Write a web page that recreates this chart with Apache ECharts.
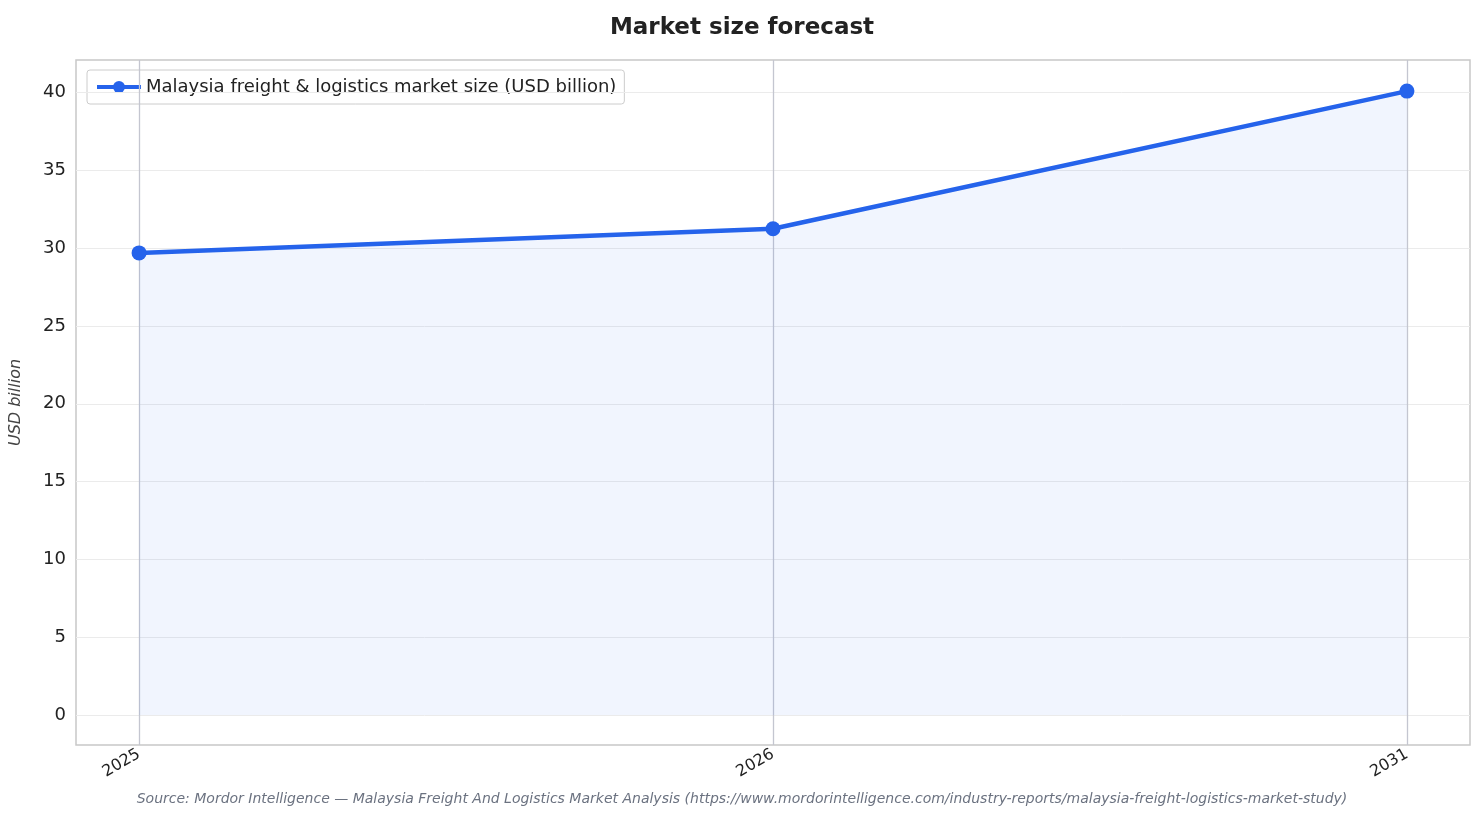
<!DOCTYPE html>
<html><head><meta charset="utf-8">
<script src="https://cdn.jsdelivr.net/npm/echarts@6/dist/echarts.min.js"></script>
<style>html,body{margin:0;padding:0;background:#fff}#c{width:1484px;height:823px}</style>
</head><body><div id="c"></div>
<script>
const categories = ['2025', '2026', '2031'];
const marketSize = [29.7, 31.25, 40.1];
const yTicks = [0, 5, 10, 15, 20, 25, 30, 35, 40];
const seriesName = 'Malaysia freight & logistics market size (USD billion)';

const chart = echarts.init(document.getElementById('c'));
const idx = categories.map((_, i) => i);
chart.setOption({
  animation: false,
  title: { text: 'Market size forecast', left: 'center', top: 12,
    textStyle: { fontFamily: 'DejaVu Sans', fontSize: 23, fontWeight: 'bold', color: '#222' } },
  legend: { left: 87, top: 70, padding: [8, 8, 8, 8], borderColor: '#ccc', borderWidth: 1, borderRadius: 3,
    itemWidth: 44, itemHeight: 15, itemGap: 8, data: [seriesName],
    lineStyle: { width: 4 },
    textStyle: { fontFamily: 'DejaVu Sans', fontSize: 18, color: '#222' } },
  graphic: [{ type: 'text', left: 'center', top: 792,
    style: { text: 'Source: Mordor Intelligence — Malaysia Freight And Logistics Market Analysis (https://www.mordorintelligence.com/industry-reports/malaysia-freight-logistics-market-study)',
      font: 'italic 14px "DejaVu Sans"', fill: '#6b7280' } }],
  grid: { left: 76, right: 14, top: 60, bottom: 78, show: true, borderColor: '#c8c8c8', borderWidth: 1.5 },
  xAxis: { type: 'value', min: -0.0995, max: 2.0995,
    axisLine: { show: false }, splitLine: { show: false },
    axisTick: { show: true, customValues: idx, length: 5, lineStyle: { color: '#444' } },
    axisLabel: { customValues: idx, rotate: 30, formatter: v => categories[Math.round(v)] ?? '',
      fontFamily: 'DejaVu Sans', fontSize: 16, color: '#222', margin: 8 } },
  yAxis: { type: 'value', min: -1.93, max: 42.1,
    name: 'USD billion', nameLocation: 'middle', nameGap: 52,
    nameTextStyle: { fontFamily: 'DejaVu Sans', fontStyle: 'italic', fontSize: 16, color: '#444' },
    axisLine: { show: false }, splitLine: { show: false },
    axisTick: { show: true, customValues: yTicks, length: 5, lineStyle: { color: '#444' } },
    axisLabel: { customValues: yTicks, fontFamily: 'DejaVu Sans', fontSize: 18, color: '#222', margin: 10 } },
  series: [
    { name: 'grid', type: 'line', data: [], silent: true,
      markLine: { silent: true, symbol: 'none', label: { show: false },
        data: yTicks.map(v => ({ yAxis: v, lineStyle: { color: '#ebebeb', width: 1, type: 'solid' } }))
          .concat(idx.map(v => ({ xAxis: v, lineStyle: { color: '#c4c6d0', width: 1.3, type: 'solid' } }))) } },
    { name: seriesName, type: 'line', data: idx.map(i => [i, marketSize[i]]),
      symbol: 'circle', symbolSize: 15, color: '#2563eb', z: 5,
      lineStyle: { width: 4.5, color: '#2563eb' }, itemStyle: { color: '#2563eb' },
      areaStyle: { color: 'rgba(37,99,235,0.09)', origin: 0 } }
  ]
});
</script></body></html>
